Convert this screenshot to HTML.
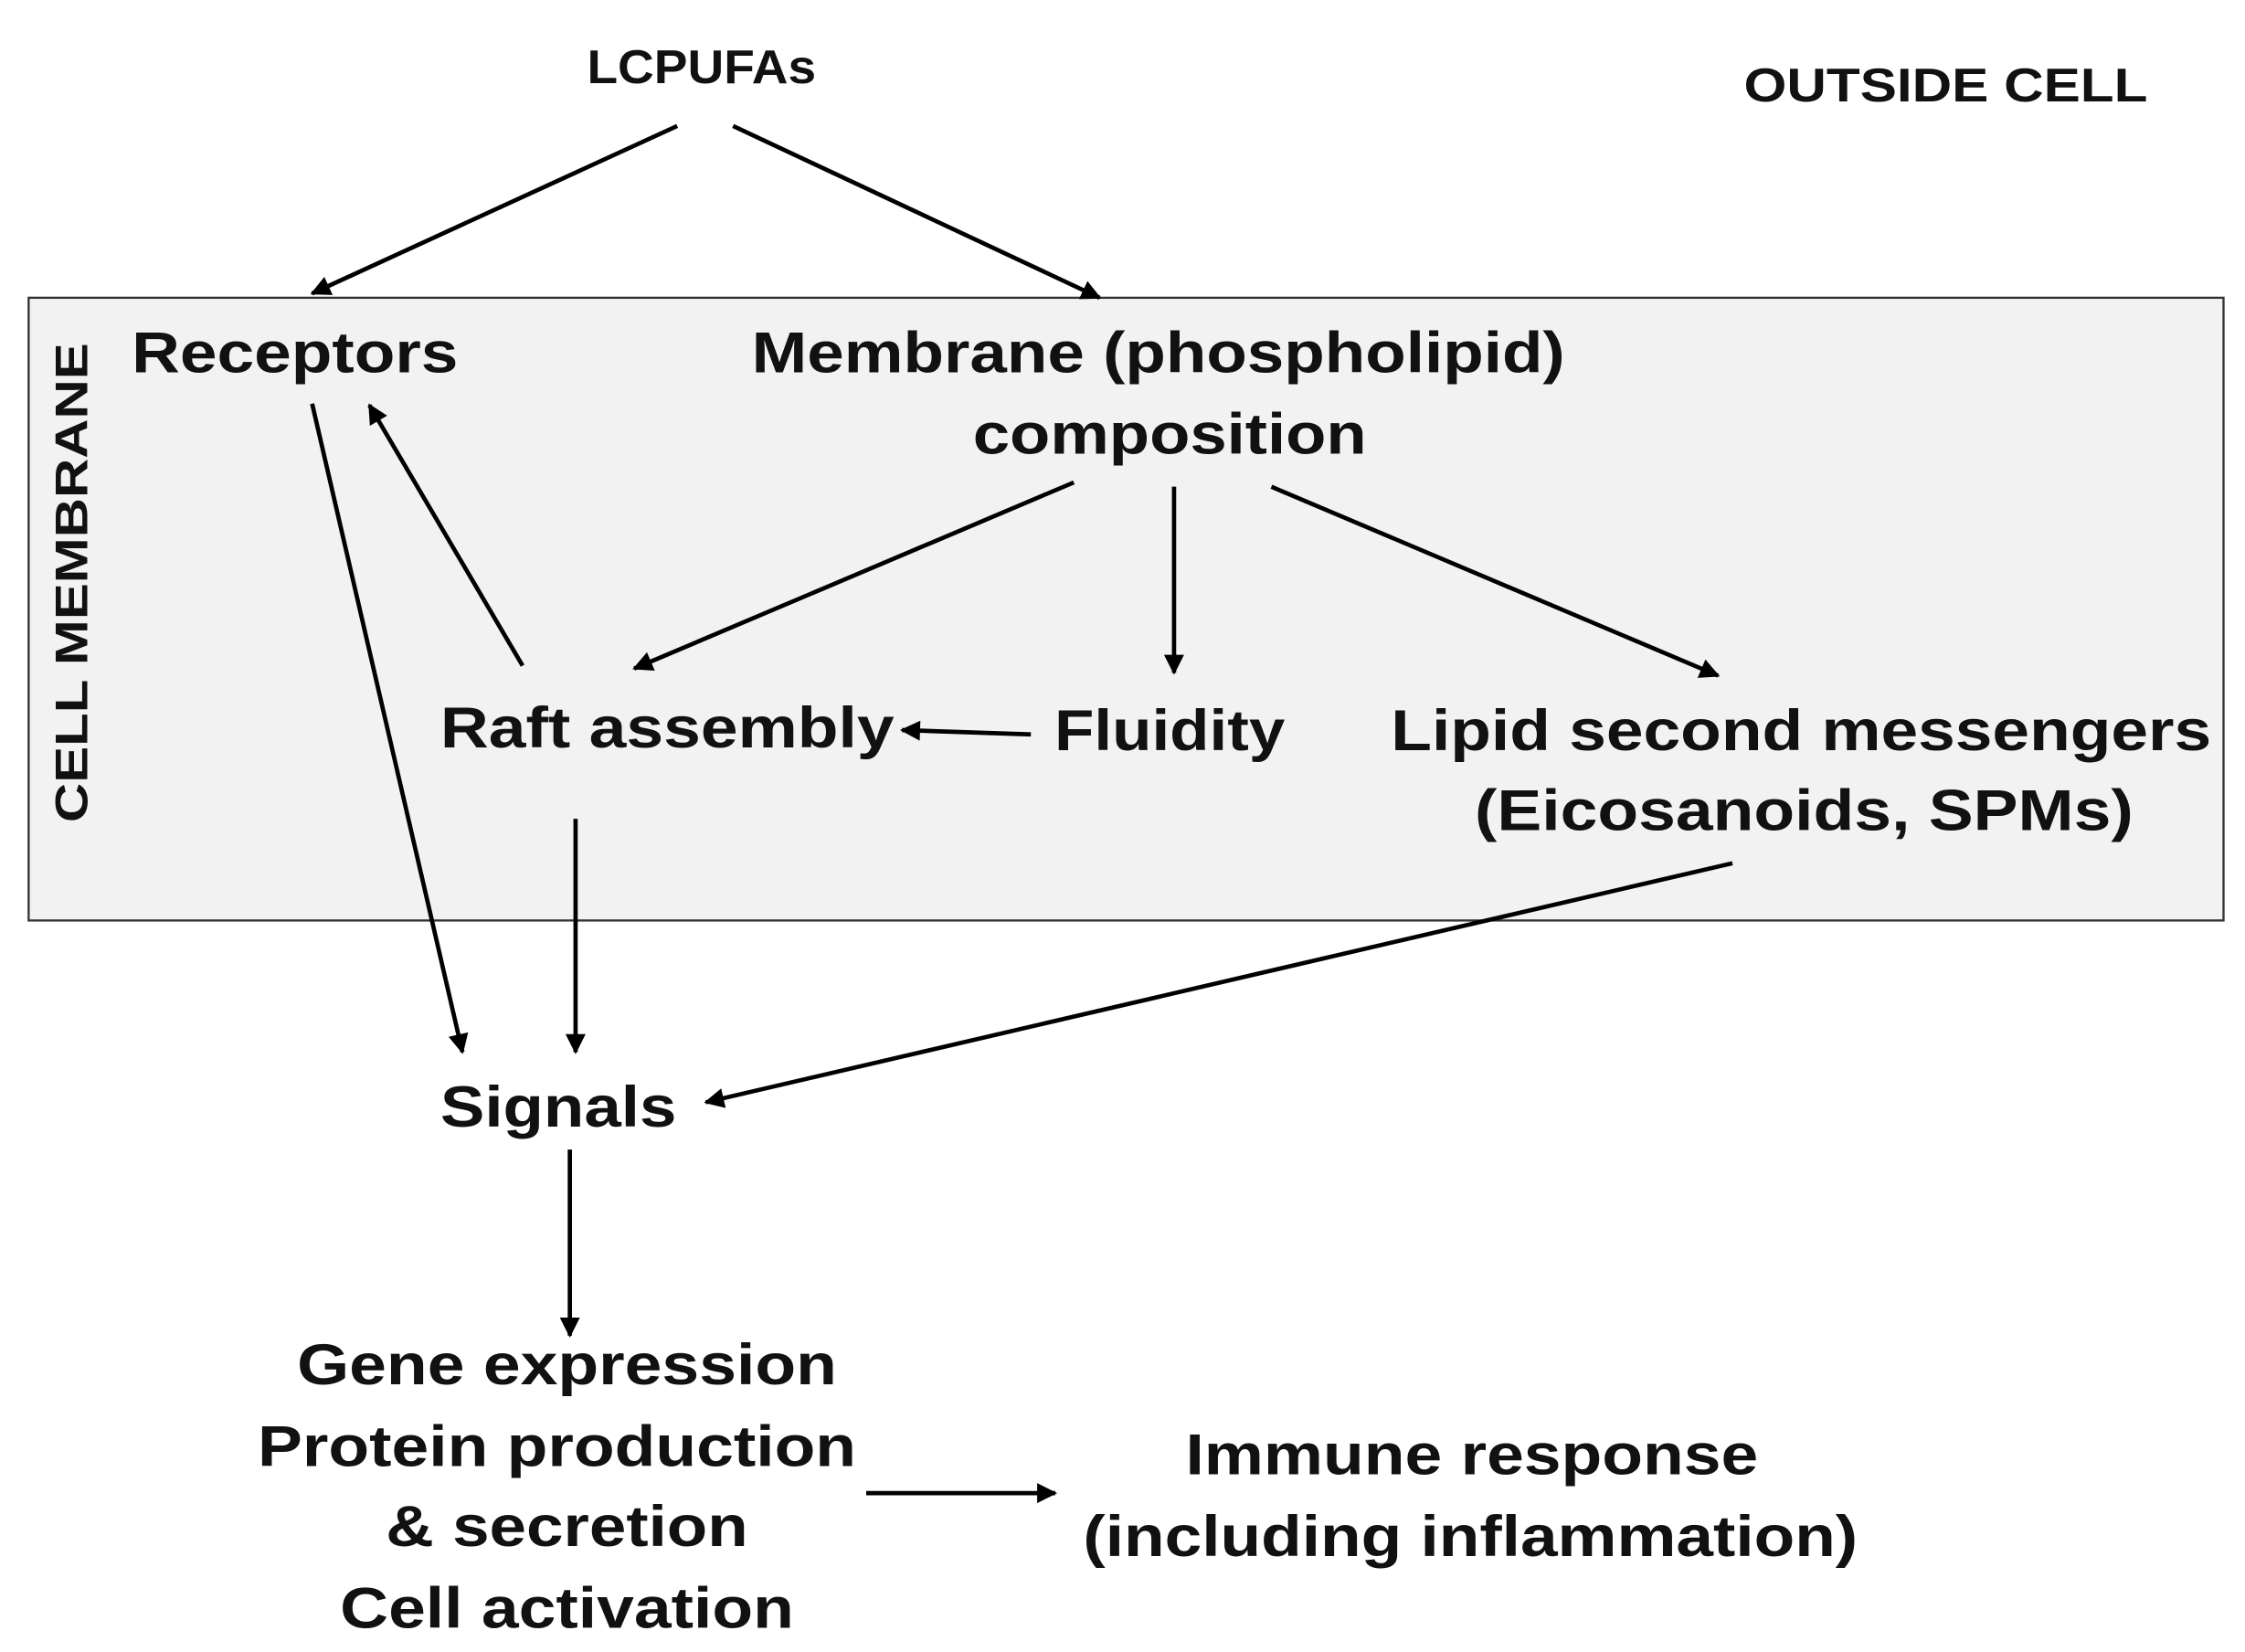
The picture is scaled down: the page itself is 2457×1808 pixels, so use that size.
<!DOCTYPE html>
<html><head><meta charset="utf-8"><style>html,body{margin:0;padding:0;background:#fff}svg{display:block}</style></head>
<body>
<svg width="2457" height="1808" viewBox="0 0 1568 1154" preserveAspectRatio="none" xmlns="http://www.w3.org/2000/svg">
<defs>
<marker id="b" viewBox="0 0 10 10" refX="9" refY="5" markerWidth="18" markerHeight="14" markerUnits="userSpaceOnUse" orient="auto"><path d="M0,0 L10,5 L0,10 z" fill="#000"/></marker></defs>
<rect x="20" y="208" width="1533" height="435" fill="#f2f2f2" stroke="#333" stroke-width="1.5"/>
<g stroke="#000" stroke-width="3" marker-end="url(#b)" fill="none">
<line x1="473" y1="88" x2="218" y2="205"/>
<line x1="512" y1="88" x2="768" y2="208"/>
<line x1="218" y1="282" x2="323" y2="735"/>
<line x1="365" y1="465" x2="258" y2="283"/>
<line x1="750" y1="337" x2="443" y2="467"/>
<line x1="820" y1="340" x2="820" y2="470"/>
<line x1="888" y1="340" x2="1200" y2="472"/>
<line x1="720" y1="513" x2="630" y2="510"/>
<line x1="402" y1="572" x2="402" y2="735"/>
<line x1="1210" y1="603" x2="493" y2="770"/>
<line x1="398" y1="803" x2="398" y2="933"/>
<line x1="605" y1="1043" x2="737" y2="1043"/>
</g>
<g font-family="Liberation Sans, Arial, sans-serif" font-weight="bold" fill="#111" text-anchor="middle" lengthAdjust="spacingAndGlyphs">
<text x="490" y="58" font-size="33" textLength="160" lengthAdjust="spacingAndGlyphs">LCPUFAs</text>
<text x="1359" y="71" font-size="33" textLength="282" lengthAdjust="spacingAndGlyphs">OUTSIDE CELL</text>
<text x="206" y="260" font-size="40" textLength="228" lengthAdjust="spacingAndGlyphs">Receptors</text>
<text x="809" y="260" font-size="40" textLength="568" lengthAdjust="spacingAndGlyphs">Membrane (phospholipid)</text>
<text x="817" y="317" font-size="40" textLength="275" lengthAdjust="spacingAndGlyphs">composition</text>
<text x="466" y="522" font-size="40" textLength="317" lengthAdjust="spacingAndGlyphs">Raft assembly</text>
<text x="817" y="524" font-size="40" textLength="161" lengthAdjust="spacingAndGlyphs">Fluidity</text>
<text x="1258" y="524" font-size="40" textLength="573" lengthAdjust="spacingAndGlyphs">Lipid second messengers</text>
<text x="1260" y="580" font-size="40" textLength="460" lengthAdjust="spacingAndGlyphs">(Eicosanoids, SPMs)</text>
<text x="390" y="787" font-size="40" textLength="165" lengthAdjust="spacingAndGlyphs">Signals</text>
<text x="396" y="967" font-size="40" textLength="377" lengthAdjust="spacingAndGlyphs">Gene expression</text>
<text x="389" y="1024" font-size="40" textLength="418" lengthAdjust="spacingAndGlyphs">Protein production</text>
<text x="396" y="1080" font-size="40" textLength="253" lengthAdjust="spacingAndGlyphs">&amp; secretion</text>
<text x="396" y="1137" font-size="40" textLength="317" lengthAdjust="spacingAndGlyphs">Cell activation</text>
<text x="1028" y="1030" font-size="40" textLength="400" lengthAdjust="spacingAndGlyphs">Immune response</text>
<text x="1027" y="1087" font-size="40" textLength="541" lengthAdjust="spacingAndGlyphs">(including inflammation)</text>
<text x="0" y="0" font-size="32" textLength="335" lengthAdjust="spacingAndGlyphs" transform="translate(61,407) rotate(-90)">CELL MEMBRANE</text>
</g>
</svg>
</body></html>
